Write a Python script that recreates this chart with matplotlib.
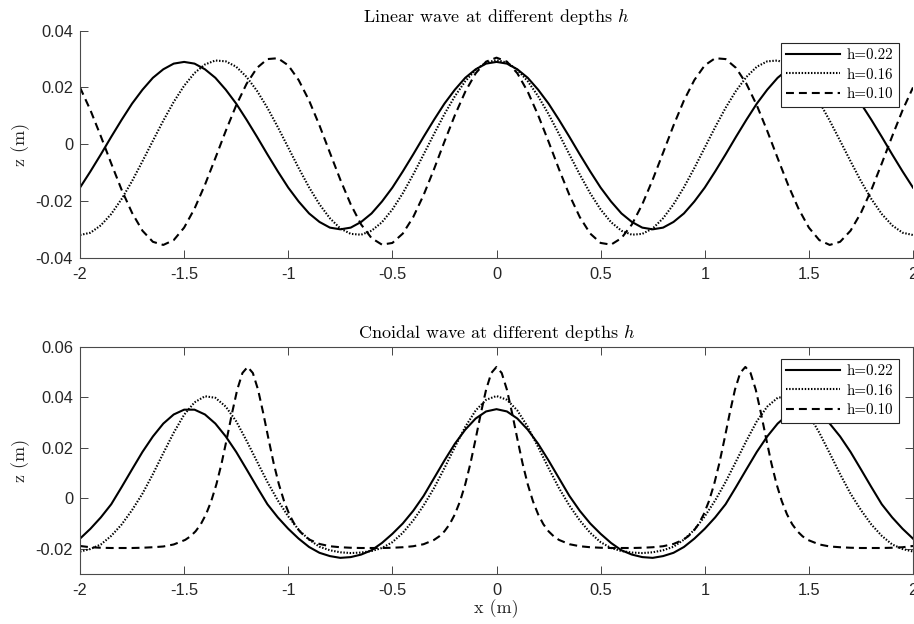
import numpy as np
import matplotlib
matplotlib.use("Agg")
import matplotlib.pyplot as plt

plt.rcParams['font.family'] = ['Liberation Sans', 'DejaVu Sans']
plt.rcParams['mathtext.fontset'] = 'cm'
plt.rcParams['axes.unicode_minus'] = False

# ---------------- data ----------------
x_grid = np.round(np.arange(-2.0, 2.0001, 0.05), 3)

lin_h022 = [-0.0153, -0.0096, -0.0036, 0.0026, 0.0086, 0.0143, 0.0192, 0.0234, 0.0264, 0.0284,
            0.0290, 0.0284, 0.0264, 0.0234, 0.0192, 0.0143, 0.0086, 0.0026, -0.0036, -0.0096,
            -0.0153, -0.0202, -0.0244, -0.0274, -0.0294, -0.0300, -0.0294, -0.0274, -0.0244, -0.0202,
            -0.0153, -0.0096, -0.0036, 0.0026, 0.0086, 0.0143, 0.0192, 0.0234, 0.0264, 0.0284,
            0.0290,
            0.0284, 0.0264, 0.0234, 0.0192, 0.0143, 0.0086, 0.0026, -0.0036, -0.0096, -0.0153,
            -0.0202, -0.0244, -0.0274, -0.0294, -0.0300, -0.0294, -0.0274, -0.0244, -0.0202, -0.0153,
            -0.0096, -0.0036, 0.0026, 0.0086, 0.0143, 0.0192, 0.0234, 0.0264, 0.0284, 0.0290,
            0.0284, 0.0264, 0.0234, 0.0192, 0.0143, 0.0086, 0.0026, -0.0036, -0.0096, -0.0153]

lin_h016 = [-0.0320, -0.0312, -0.0286, -0.0246, -0.0193, -0.0130, -0.0060, 0.0012, 0.0083, 0.0149,
            0.0206, 0.0251, 0.0281, 0.0295, 0.0292, 0.0273, 0.0237, 0.0188, 0.0128, 0.0060,
            -0.0012, -0.0084, -0.0152, -0.0212, -0.0261, -0.0297, -0.0316, -0.0319, -0.0305, -0.0275,
            -0.0230, -0.0173, -0.0107, -0.0036, 0.0036, 0.0106, 0.0169, 0.0222, 0.0262, 0.0288,
            0.0296,
            0.0288, 0.0262, 0.0222, 0.0169, 0.0106, 0.0036, -0.0036, -0.0107, -0.0173, -0.0230,
            -0.0275, -0.0305, -0.0319, -0.0316, -0.0297, -0.0261, -0.0212, -0.0152, -0.0084, -0.0012,
            0.0060, 0.0128, 0.0188, 0.0237, 0.0273, 0.0292, 0.0295, 0.0281, 0.0251, 0.0206,
            0.0149, 0.0083, 0.0012, -0.0060, -0.0130, -0.0193, -0.0246, -0.0286, -0.0312, -0.0320]

lin_h010 = [0.0200, 0.0120, 0.0028, -0.0068, -0.0161, -0.0242, -0.0305, -0.0344, -0.0355, -0.0338,
            -0.0294, -0.0227, -0.0143, -0.0049, 0.0047, 0.0137, 0.0213, 0.0269, 0.0300, 0.0303,
            0.0278, 0.0226, 0.0154, 0.0066, -0.0030, -0.0125, -0.0212, -0.0283, -0.0331, -0.0354,
            -0.0348, -0.0315, -0.0257, -0.0179, -0.0088, 0.0009, 0.0102, 0.0185, 0.0250, 0.0291,
            0.0305,
            0.0291, 0.0250, 0.0185, 0.0102, 0.0009, -0.0088, -0.0179, -0.0257, -0.0315, -0.0348,
            -0.0354, -0.0331, -0.0283, -0.0212, -0.0125, -0.0030, 0.0066, 0.0154, 0.0226, 0.0278,
            0.0303, 0.0300, 0.0269, 0.0213, 0.0137, 0.0047, -0.0049, -0.0143, -0.0227, -0.0294,
            -0.0338, -0.0355, -0.0344, -0.0305, -0.0242, -0.0161, -0.0068, 0.0028, 0.0120, 0.0200]

cn_h022 = [-0.0159, -0.0120, -0.0075, -0.0023, 0.0045, 0.0115, 0.0184, 0.0245, 0.0296, 0.0332,
           0.0351, 0.0351, 0.0332, 0.0296, 0.0245, 0.0184, 0.0115, 0.0045, -0.0023, -0.0075,
           -0.0120, -0.0159, -0.0192, -0.0215, -0.0228, -0.0235, -0.0232, -0.0222, -0.0205, -0.0176,
           -0.0140, -0.0099, -0.0049, 0.0010, 0.0080, 0.0150, 0.0216, 0.0272, 0.0316, 0.0344,
           0.0353,
           0.0344, 0.0316, 0.0272, 0.0216, 0.0150, 0.0080, 0.0010, -0.0049, -0.0099, -0.0140,
           -0.0176, -0.0205, -0.0222, -0.0232, -0.0235, -0.0228, -0.0215, -0.0192, -0.0159, -0.0120,
           -0.0075, -0.0023, 0.0045, 0.0115, 0.0184, 0.0245, 0.0296, 0.0332, 0.0351, 0.0351,
           0.0332, 0.0296, 0.0245, 0.0184, 0.0115, 0.0045, -0.0023, -0.0075, -0.0120, -0.0159]

cn_h016 = [-0.0210, -0.0200, -0.0182, -0.0148, -0.0103, -0.0046, 0.0019, 0.0096, 0.0179, 0.0260,
           0.0331, 0.0380, 0.0404, 0.0398, 0.0363, 0.0305, 0.0228, 0.0146, 0.0065, -0.0008,
           -0.0071, -0.0124, -0.0163, -0.0191, -0.0205, -0.0213, -0.0216, -0.0214, -0.0208, -0.0196,
           -0.0173, -0.0136, -0.0087, -0.0028, 0.0041, 0.0120, 0.0203, 0.0283, 0.0348, 0.0390,
           0.0405,
           0.0390, 0.0348, 0.0283, 0.0203, 0.0120, 0.0041, -0.0028, -0.0087, -0.0136, -0.0173,
           -0.0196, -0.0208, -0.0214, -0.0216, -0.0213, -0.0205, -0.0191, -0.0163, -0.0124, -0.0071,
           -0.0008, 0.0065, 0.0146, 0.0228, 0.0305, 0.0363, 0.0398, 0.0404, 0.0380, 0.0331,
           0.0260, 0.0179, 0.0096, 0.0019, -0.0046, -0.0103, -0.0148, -0.0182, -0.0200, -0.0210]

# h=0.10 cnoidal wave: finer sampling around its narrow crests
x_cn010 = [-2.0, -1.95, -1.9, -1.85, -1.8, -1.75, -1.7, -1.65, -1.6, -1.55,
           -1.495, -1.47, -1.445, -1.42, -1.395, -1.37, -1.345, -1.32, -1.295, -1.27, -1.245, -1.22,
           -1.195,
           -1.17, -1.145, -1.12, -1.095, -1.07, -1.045, -1.02, -0.995, -0.97, -0.945, -0.92, -0.895,
           -0.85, -0.8, -0.75, -0.7, -0.65, -0.6, -0.55, -0.5, -0.45, -0.4, -0.35,
           -0.3, -0.275, -0.25, -0.225, -0.2, -0.175, -0.15, -0.125, -0.1, -0.075, -0.05, -0.025,
           0.0,
           0.025, 0.05, 0.075, 0.1, 0.125, 0.15, 0.175, 0.2, 0.225, 0.25, 0.275, 0.3,
           0.35, 0.4, 0.45, 0.5, 0.55, 0.6, 0.65, 0.7, 0.75, 0.8, 0.85,
           0.895, 0.92, 0.945, 0.97, 0.995, 1.02, 1.045, 1.07, 1.095, 1.12, 1.145, 1.17,
           1.195,
           1.22, 1.245, 1.27, 1.295, 1.32, 1.345, 1.37, 1.395, 1.42, 1.445, 1.47, 1.495,
           1.55, 1.6, 1.65, 1.7, 1.75, 1.8, 1.85, 1.9, 1.95, 2.0]
cn_h010 = [-0.0188, -0.0193, -0.0195, -0.0196, -0.0196, -0.0196, -0.0195, -0.0193, -0.0190, -0.0182,
           -0.0164, -0.0150, -0.0130, -0.0102, -0.0063, -0.0011, 0.0056, 0.0139, 0.0236, 0.0337, 0.0430, 0.0496,
           0.0520,
           0.0496, 0.0430, 0.0337, 0.0236, 0.0139, 0.0056, -0.0011, -0.0063, -0.0102, -0.0130, -0.0150, -0.0164,
           -0.0180, -0.0189, -0.0193, -0.0195, -0.0196, -0.0196, -0.0196, -0.0195, -0.0193, -0.0189, -0.0181,
           -0.0164, -0.0150, -0.0130, -0.0102, -0.0063, -0.0011, 0.0056, 0.0139, 0.0236, 0.0337, 0.0430, 0.0496,
           0.0520,
           0.0496, 0.0430, 0.0337, 0.0236, 0.0139, 0.0056, -0.0011, -0.0063, -0.0102, -0.0130, -0.0150, -0.0164,
           -0.0181, -0.0189, -0.0193, -0.0195, -0.0196, -0.0196, -0.0196, -0.0195, -0.0193, -0.0189, -0.0180,
           -0.0164, -0.0150, -0.0130, -0.0102, -0.0063, -0.0011, 0.0056, 0.0139, 0.0236, 0.0337, 0.0430, 0.0496,
           0.0520,
           0.0496, 0.0430, 0.0337, 0.0236, 0.0139, 0.0056, -0.0011, -0.0063, -0.0102, -0.0130, -0.0150, -0.0164,
           -0.0182, -0.0190, -0.0193, -0.0195, -0.0196, -0.0196, -0.0196, -0.0195, -0.0193, -0.0188]

legend_labels = ['h=0.22', 'h=0.16', 'h=0.10']
x_ticks = [-2, -1.5, -1, -0.5, 0, 0.5, 1, 1.5, 2]
x_ticklabels = ['-2', '-1.5', '-1', '-0.5', '0', '0.5', '1', '1.5', '2']
y1_ticks = [-0.04, -0.02, 0, 0.02, 0.04]
y1_ticklabels = ['-0.04', '-0.02', '0', '0.02', '0.04']
y2_ticks = [-0.02, 0, 0.02, 0.04, 0.06]
y2_ticklabels = ['-0.02', '0', '0.02', '0.04', '0.06']
title1 = 'Linear wave at different depths $h$'
title2 = 'Cnoidal wave at different depths $h$'

# ---------------- figure ----------------
W, H = 914, 624
fig = plt.figure(figsize=(W / 100, H / 100), dpi=100)
ax1 = fig.add_axes([80 / W, 1 - 257.7 / H, 833 / W, 227 / H])
ax2 = fig.add_axes([80 / W, 1 - 574.3 / H, 833 / W, 227.6 / H])

axis_col = '#262626'
serif = 'cmr10'
lw = 1.5
styles = [dict(linestyle='-'),
          dict(linestyle=(0, (0.7, 0.8))),
          dict(linestyle=(0, (3.8, 2.4)))]

ax1.plot(x_grid, lin_h022, color='k', lw=lw, label=legend_labels[0], **styles[0])
ax1.plot(x_grid, lin_h016, color='k', lw=lw, label=legend_labels[1], **styles[1])
ax1.plot(x_grid, lin_h010, color='k', lw=lw, label=legend_labels[2], **styles[2])

ax2.plot(x_grid, cn_h022, color='k', lw=lw, label=legend_labels[0], **styles[0])
ax2.plot(x_grid, cn_h016, color='k', lw=lw, label=legend_labels[1], **styles[1])
ax2.plot(x_cn010, cn_h010, color='k', lw=lw, label=legend_labels[2], **styles[2])

for ax, yt, ytl, ylim, title in [(ax1, y1_ticks, y1_ticklabels, (-0.04, 0.04), title1),
                                  (ax2, y2_ticks, y2_ticklabels, (-0.03, 0.06), title2)]:
    ax.set_xlim(-2, 2)
    ax.set_ylim(*ylim)
    ax.set_xticks(x_ticks)
    ax.set_xticklabels(x_ticklabels)
    ax.set_yticks(yt)
    ax.set_yticklabels(ytl)
    ax.tick_params(direction='in', length=5.6, width=0.6, colors=axis_col,
                   labelsize=11.8, pad=5)
    ax.tick_params(axis='x', pad=6.5)
    for s in ax.spines.values():
        s.set_color('#4a4a4a')
        s.set_linewidth(0.8)
    ax.set_title(title, fontsize=13, pad=6.5, color='k', fontfamily=serif)
    ax.set_ylabel('z (m)', fontsize=13, color=axis_col, labelpad=4, fontfamily=serif)
    leg = ax.legend(loc='upper right', bbox_to_anchor=(0.983, 0.946), borderaxespad=0,
                    prop={'family': serif, 'size': 10.8},
                    handlelength=3.6, handletextpad=0.45, labelspacing=0.4,
                    borderpad=0.35, fancybox=False, framealpha=1, edgecolor='#262626')
    leg.get_frame().set_linewidth(0.8)

ax1.spines['top'].set_visible(False)
ax1.spines['right'].set_visible(False)
ax2.tick_params(top=True, right=True, labeltop=False, labelright=False)
ax2.set_xlabel('x (m)', fontsize=13, color=axis_col, labelpad=1, fontfamily=serif)

fig.savefig('out.png', dpi=100)
